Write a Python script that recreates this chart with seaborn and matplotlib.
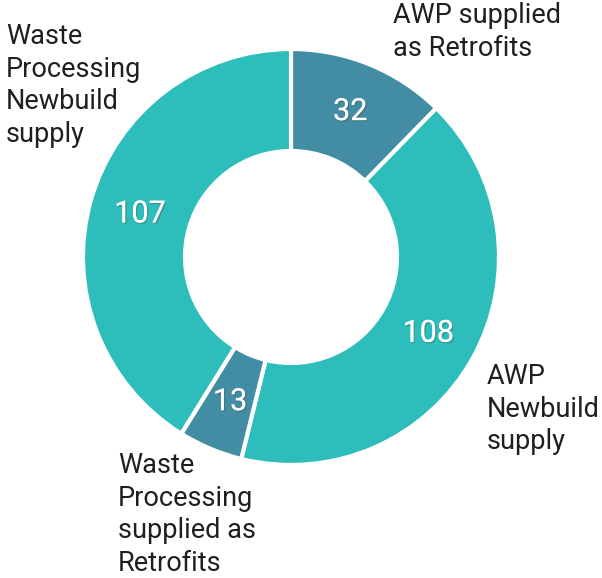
import matplotlib
matplotlib.use('Agg')
import matplotlib.pyplot as plt
import matplotlib.patheffects as pe
import numpy as np
import seaborn as sns

# data, clockwise from the top
categories = ['AWP supplied\nas Retrofits', 'AWP\nNewbuild\nsupply',
              'Waste\nProcessing\nsupplied as\nRetrofits', 'Waste\nProcessing\nNewbuild\nsupply']
values = [32, 108, 13, 107]
colors = ['#428da3', '#2dbdbb', '#428da3', '#2dbdbb']

sns.set_theme(style='white')
plt.rcParams['font.family'] = ['Roboto', 'DejaVu Sans']

fig = plt.figure(figsize=(6.02, 5.78), dpi=100)
ax = fig.add_axes([0, 0, 1, 1])

cx, cy = 291, 578 - 257
r_out, r_in = 208, 106
wedges, _ = ax.pie(values, colors=colors, startangle=90, counterclock=False,
                   center=(cx, cy), radius=r_out, frame=True,
                   wedgeprops=dict(width=r_out - r_in, edgecolor='white', linewidth=3))
ax.set_xlim(0, 602)
ax.set_ylim(0, 578)
ax.set_aspect('equal')
ax.axis('off')

# value labels in the middle of the ring
r_mid = (r_out + r_in) / 2
for w, v in zip(wedges, values):
    ang = np.deg2rad((w.theta1 + w.theta2) / 2)
    ax.text(cx + r_mid * np.cos(ang), cy + r_mid * np.sin(ang), str(v),
            ha='center', va='center', fontsize=22, color='white',
            path_effects=[pe.withSimplePatchShadow(offset=(1, -1), alpha=0.35), pe.Normal()])

# category labels
label_pos = [(393, 578 - 2), (487, 578 - 363), (118, 578 - 452), (6, 578 - 23)]
for txt, (x, y) in zip(categories, label_pos):
    ax.text(x, y, txt, ha='left', va='top', fontsize=19.5, color='#1f1f1f', linespacing=1.27)

fig.savefig('out.png', dpi=100)
